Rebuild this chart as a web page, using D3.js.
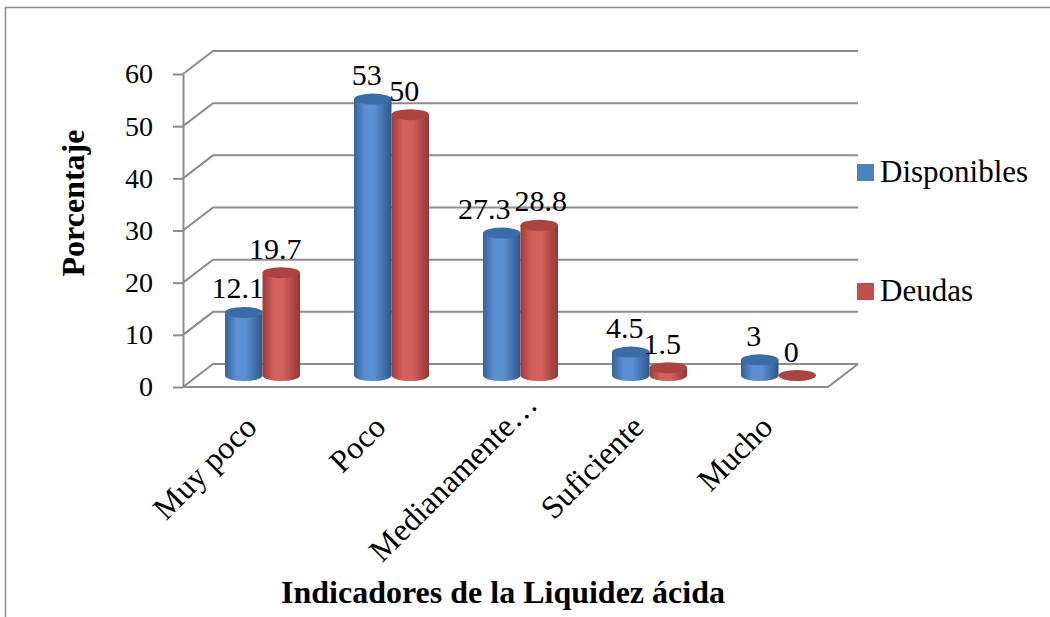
<!DOCTYPE html>
<html>
<head>
<meta charset="utf-8">
<script src="https://cdn.jsdelivr.net/npm/d3@7"></script>
<style>
  body { margin: 0; background: #fff; }
</style>
</head>
<body>
<svg width="1050" height="617"></svg>
<script>
// data
var categories = ["Muy poco", "Poco", "Medianamente\u2026", "Suficiente", "Mucho"];
var seriesNames = ["Disponibles", "Deudas"];
var disponibles = [12.1, 53, 27.3, 4.5, 3];
var deudas = [19.7, 50, 28.8, 1.5, 0];
var yTicks = [0, 10, 20, 30, 40, 50, 60];

var serif = "'Liberation Serif', 'Times New Roman', serif";
var colors = { Disponibles: ["#35639b", "#5b8fd2", "#2d5789", "#3b6ca8"],
               Deudas: ["#9e3c3a", "#d4605c", "#933735", "#ab4340"] };

var svg = d3.select("svg").style("font-family", serif);
var defs = svg.append("defs");

// 3d frame: front plane and depth shift
var left = 183, right = 828, depthX = 30, depthY = -23;
var x = d3.scaleBand().domain(categories).range([left, right]);
var y = d3.scaleLinear().domain([0, 60]).range([387, 74]);
var xs = d3.scaleBand().domain(seriesNames)
  .range([(x.bandwidth() - 75) / 2, (x.bandwidth() + 75) / 2]);

// outer frame
svg.append("path").attr("d", "M5.5,617 L5.5,7.5 L1050,7.5")
  .attr("fill", "none").attr("stroke", "#8a8a8a").attr("stroke-width", 1.5);

var grid = svg.append("g").attr("stroke", "#8c8c8c").attr("stroke-width", 2).attr("fill", "none");
yTicks.forEach(function(t) {
  grid.append("path")
    .attr("d", "M" + left + "," + y(t) + " L" + (left + depthX) + "," + (y(t) + depthY) +
      " L" + (right + depthX) + "," + (y(t) + depthY));
});
// floor front edge
grid.append("path")
  .attr("d", "M" + left + "," + y(0) + " L" + right + "," + y(0) + " L" + (right + depthX) + "," + (y(0) + depthY));

// y axis
var yAxis = svg.append("g")
  .attr("transform", "translate(" + left + ",0)")
  .call(d3.axisLeft(y).tickValues(yTicks).tickSize(10).tickSizeOuter(0).tickPadding(20));
yAxis.attr("font-family", null).attr("font-size", null);
yAxis.selectAll("path, line").attr("stroke", "#8c8c8c").attr("stroke-width", 2);
yAxis.selectAll("text").style("font-size", "28px").style("font-family", serif).attr("fill", "#000");

// cylinders
var rx = xs.bandwidth() / 2, ry = 5.5;
var rows = [];
categories.forEach(function(c, i) {
  rows.push({ cat: c, s: "Disponibles", v: disponibles[i] });
  rows.push({ cat: c, s: "Deudas", v: deudas[i] });
});

seriesNames.forEach(function(s) {
  var g = defs.append("linearGradient").attr("id", "grad-" + s).attr("x1", 0).attr("x2", 1).attr("y1", 0).attr("y2", 0);
  g.append("stop").attr("offset", "0%").attr("stop-color", colors[s][0]);
  g.append("stop").attr("offset", "30%").attr("stop-color", colors[s][1]);
  g.append("stop").attr("offset", "55%").attr("stop-color", colors[s][1]);
  g.append("stop").attr("offset", "100%").attr("stop-color", colors[s][2]);
});

var bars = svg.append("g");
rows.forEach(function(d) {
  var cx = x(d.cat) + xs(d.s) + rx + depthX / 2;
  var yb = y(0) + depthY / 2, yt = y(d.v) + depthY / 2;
  d.cx = cx; d.yt = yt;
  if (d.v > 0) {
    bars.append("path")
      .attr("d", "M" + (cx - rx) + "," + yt + " L" + (cx - rx) + "," + yb +
        " A" + rx + "," + ry + " 0 0 0 " + (cx + rx) + "," + yb +
        " L" + (cx + rx) + "," + yt + " Z")
      .attr("fill", "url(#grad-" + d.s + ")");
  }
  bars.append("ellipse").attr("cx", cx).attr("cy", yt).attr("rx", rx).attr("ry", ry)
    .attr("fill", colors[d.s][3]);
});

// value labels, nudged apart where they collide
var labels = svg.append("g").style("font-size", "30px").style("font-family", serif).attr("text-anchor", "middle");
var lab = rows.map(function(d) {
  var t = labels.append("text").text(d.v).attr("x", d.cx - 6).attr("y", d.yt - 14)
    .style("font-family", serif);
  return { node: t, x: d.cx - 6, y: d.yt - 14, w: t.node().getComputedTextLength() };
});
for (var i = 0; i < lab.length; i += 2) {
  var a = lab[i], b = lab[i + 1];
  var overlap = (a.x + a.w / 2) - (b.x - b.w / 2);
  if (overlap > 0 && Math.abs(a.y - b.y) < 22) {
    a.node.attr("x", a.x - (overlap + 4) * 0.6);
    b.node.attr("x", b.x + (overlap + 4) * 0.4);
  }
}

// category labels (a truncation ellipsis hangs past the tick)
var catLabels = svg.append("g").selectAll("text").data(categories).enter().append("text")
  .attr("transform", function(d) { return "translate(" + (x(d) + x.bandwidth() / 2 + 11) + ",429) rotate(-45)"; })
  .attr("text-anchor", "end")
  .style("font-size", "32px").style("font-family", serif)
  .text(function(d) { return d; });
var probe = svg.append("text").style("font-size", "32px").style("font-family", serif).text("\u2026");
var ellW = probe.node().getComputedTextLength();
probe.remove();
catLabels.attr("dx", function(d) { return d.slice(-1) === "\u2026" ? ellW : 0; });

// axis titles
svg.append("text").attr("transform", "translate(84,203) rotate(-90)")
  .attr("text-anchor", "middle").style("font-size", "32px").style("font-weight", "bold")
  .style("font-family", serif).text("Porcentaje");
svg.append("text").attr("x", 503).attr("y", 603)
  .attr("text-anchor", "middle").style("font-size", "32px").style("font-weight", "bold")
  .style("font-family", serif).text("Indicadores de la Liquidez ácida");

// legend
var legend = svg.append("g").selectAll("g").data(seriesNames).enter().append("g")
  .attr("transform", function(d, i) { return "translate(857," + (164 + i * 119) + ")"; });
legend.append("rect").attr("width", 17).attr("height", 17)
  .attr("fill", function(d) { return d === "Disponibles" ? "#4f81bd" : "#c0504d"; });
legend.append("text").attr("x", 23).attr("y", 18).style("font-size", "31px")
  .style("font-family", serif)
  .text(function(d) { return d; });
</script>
</body>
</html>
